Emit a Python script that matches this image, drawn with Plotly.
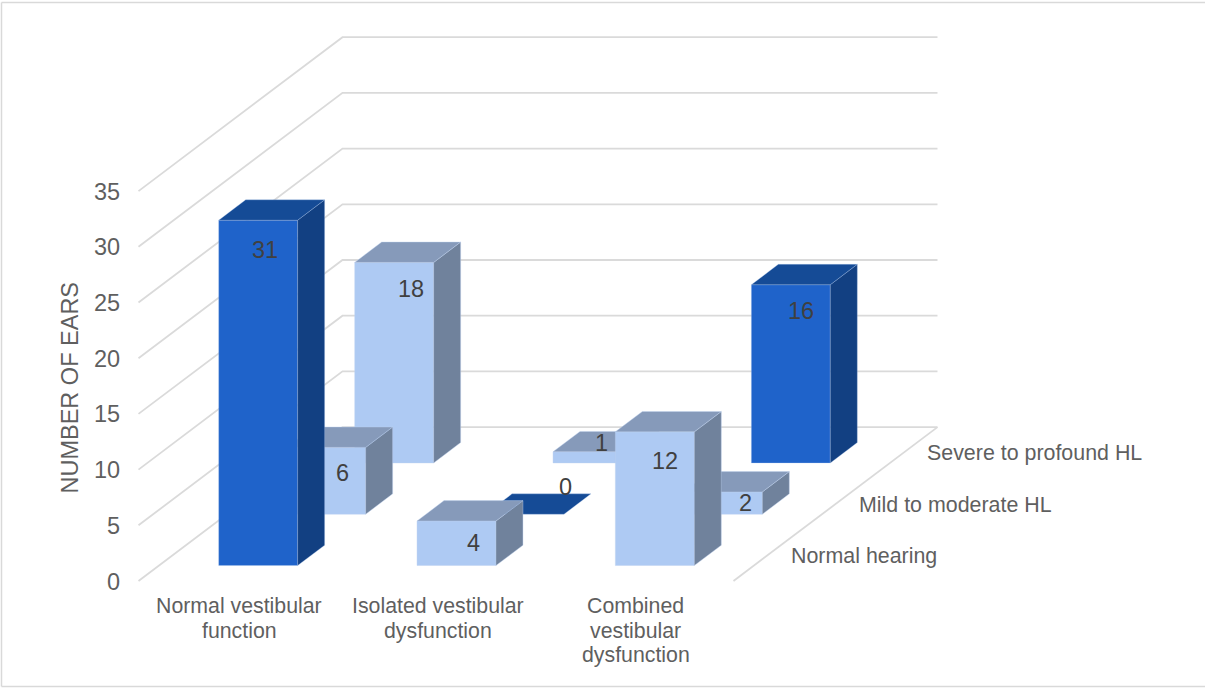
import plotly.graph_objects as go

# Chart data
categories = [["Normal vestibular", "function"],
              ["Isolated vestibular", "dysfunction"],
              ["Combined", "vestibular", "dysfunction"]]
hearing_groups = ["Normal hearing", "Mild to moderate HL", "Severe to profound HL"]
normal_hearing = [31, 4, 12]
mild_moderate = [6, 0, 2]
severe_profound = [18, 1, 16]
value_ticks = [0, 5, 10, 15, 20, 25, 30, 35]
axis_title = "NUMBER OF EARS"

# One dark column per hearing group, the others use the pale fill
highlight = {(0, 0), (1, 1), (2, 2)}

# Oblique projection: category, depth row and value to canvas units
ORIGIN_X, ORIGIN_Y = 138.5, 581.0
CAT_W = 198.33
ROW_DX, ROW_DY = 68.0, -51.3
UNIT = 11.14
BAR_W = 0.398
BAR_D = 0.397


def project(cat, row, value):
    return (ORIGIN_X + cat * CAT_W + row * ROW_DX,
            ORIGIN_Y + row * ROW_DY - value * UNIT)


DARK = {"front": "#1F63CA", "top": "#154B96", "side": "#124082", "edge": "rgba(170,195,235,0.3)"}
PALE = {"front": "#AECAF3", "top": "#869ABA", "side": "#70829C", "edge": "rgba(190,210,240,0.4)"}
GRID = "#DADADA"
TEXT = "#5F5F5F"
LABEL = "#404040"
FONT = "Liberation Sans, Arial, sans-serif"

fig = go.Figure()


def add_polyline(points, color, width):
    fig.add_trace(go.Scatter(x=[p[0] for p in points], y=[p[1] for p in points],
                             mode="lines", line=dict(color=color, width=width),
                             hoverinfo="skip", showlegend=False))


def add_face(points, fill, edge):
    pts = points + points[:1]
    fig.add_trace(go.Scatter(x=[p[0] for p in pts], y=[p[1] for p in pts],
                             mode="lines", fill="toself", fillcolor=fill,
                             line=dict(color=edge, width=1),
                             hoverinfo="skip", showlegend=False))


# Walls and floor edge
for v in value_ticks:
    add_polyline([project(0, 0, v), project(0, 3, v), project(3, 3, v)], GRID, 1.8)
add_polyline([project(3, 0, 0), project(3, 3, 0)], GRID, 1.8)

# Columns are painted from the back row forwards so nearer ones overlap
rows = [normal_hearing, mild_moderate, severe_profound]
for r in (2, 1, 0):
    for c, value in enumerate(rows[r]):
        style = DARK if (c, r) in highlight else PALE
        c0, c1 = c + 0.5 - BAR_W / 2, c + 0.5 + BAR_W / 2
        r0, r1 = r + 0.5 - BAR_D / 2, r + 0.5 + BAR_D / 2
        if value > 0:
            add_face([project(c0, r0, 0), project(c1, r0, 0),
                      project(c1, r0, value), project(c0, r0, value)],
                     style["front"], style["edge"])
            add_face([project(c1, r0, 0), project(c1, r1, 0),
                      project(c1, r1, value), project(c1, r0, value)],
                     style["side"], style["edge"])
        add_face([project(c0, r0, value), project(c1, r0, value),
                  project(c1, r1, value), project(c0, r1, value)],
                 style["top"], style["edge"])

annotations = []


def add_text(x, y, text, size, color, anchor="center", angle=0):
    annotations.append(dict(x=x, y=y, xref="x", yref="y", text=text, showarrow=False,
                            xanchor=anchor, yanchor="middle", textangle=angle,
                            font=dict(family=FONT, size=size, color=color)))


# Value-axis ticks and title
for v in value_ticks:
    x, y = project(0, 0, v)
    add_text(x - 16.5, y + 0.5, str(v), 23.5, TEXT, anchor="right")
add_text(69, 387.5, axis_title, 23.5, TEXT, angle=-90)

# Category labels under the floor, one annotation per line
for c, lines in enumerate(categories):
    x, _ = project(c + 0.5, 0, 0)
    for n, line in enumerate(lines):
        add_text(x + 1.5, 606 + n * 24.5, line, 21.3, TEXT)

# Depth-axis labels beside the floor edge
for r, name in enumerate(hearing_groups):
    x, y = project(3, r + 0.5, 0)
    add_text(x + 21.5, y + 0.5, name, 21.4, TEXT, anchor="left")

# Value labels: offset from the centre of each column's top front edge
label_offsets = {(0, 0): (6.5, 29.5), (1, 0): (16.5, 22), (2, 0): (10.5, 29),
                 (0, 1): (16.5, 26), (1, 1): (41, -27), (2, 1): (22.5, 11),
                 (0, 2): (16.5, 27), (1, 2): (8.5, -9), (2, 2): (10.5, 26)}
for r, series in enumerate(rows):
    for c, value in enumerate(series):
        x, y = project(c + 0.5, r + 0.5 - BAR_D / 2, value)
        dx, dy = label_offsets[(c, r)]
        add_text(x + dx, y + dy, str(value), 23.5, LABEL)

# Outer chart border
border = [dict(type="line", xref="x", yref="y", x0=x0, y0=y0, x1=x1, y1=y1,
               line=dict(color="#D9D9D9", width=1.5))
          for x0, y0, x1, y1 in [(1.5, 2.5, 1205, 2.5), (1.5, 2.5, 1.5, 686.5),
                                 (1.5, 686.5, 1205, 686.5)]]

fig.update_layout(
    width=1205, height=688, margin=dict(l=0, r=0, t=0, b=0),
    paper_bgcolor="white", plot_bgcolor="white", showlegend=False,
    xaxis=dict(range=[0, 1205], visible=False, fixedrange=True),
    yaxis=dict(range=[688, 0], visible=False, fixedrange=True),
    annotations=annotations, shapes=border,
)

fig.write_html("out.html", config={"displayModeBar": False})
